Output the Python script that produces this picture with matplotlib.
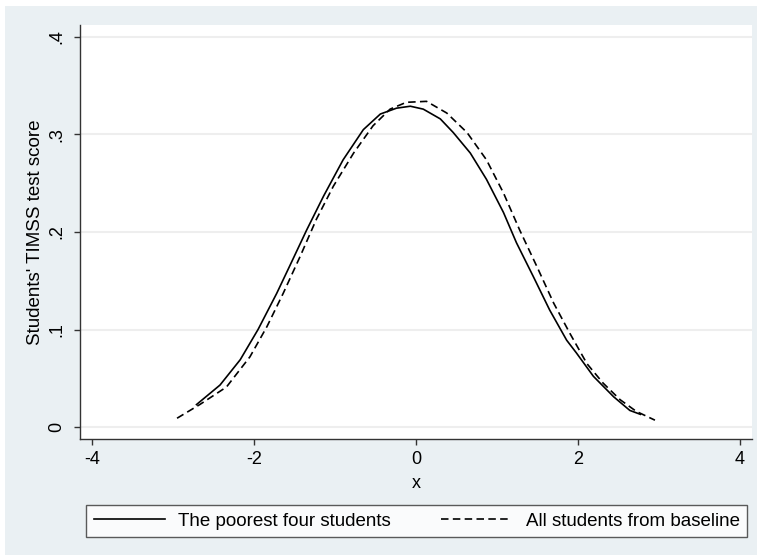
import matplotlib
matplotlib.use("Agg")
import matplotlib.pyplot as plt
from matplotlib.patches import Rectangle

plt.rcParams['font.family'] = ['Liberation Sans', 'DejaVu Sans']

# density curves
poor_x = [-2.71, -2.42, -2.17, -1.95, -1.72, -1.56, -1.35, -1.14, -0.90, -0.65, -0.44, -0.24,
          -0.07, 0.09, 0.30, 0.46, 0.67, 0.87, 1.08, 1.24, 1.45, 1.65, 1.86, 1.98, 2.19, 2.44,
          2.64, 2.77]
poor_y = [0.023, 0.043, 0.069, 0.100, 0.137, 0.165, 0.202, 0.237, 0.274, 0.305, 0.321, 0.327,
          0.329, 0.326, 0.316, 0.302, 0.281, 0.254, 0.220, 0.189, 0.154, 0.120, 0.089, 0.076,
          0.052, 0.031, 0.017, 0.013]
all_x = [-2.95, -2.67, -2.34, -2.05, -1.84, -1.64, -1.43, -1.23, -1.02, -0.77, -0.53, -0.32,
         -0.12, 0.13, 0.38, 0.63, 0.87, 1.08, 1.28, 1.49, 1.70, 1.90, 2.11, 2.31, 2.52, 2.72,
         2.95]
all_y = [0.009, 0.023, 0.041, 0.072, 0.103, 0.137, 0.175, 0.213, 0.247, 0.281, 0.309, 0.326,
         0.333, 0.334, 0.322, 0.302, 0.274, 0.240, 0.202, 0.165, 0.127, 0.096, 0.065, 0.045,
         0.028, 0.016, 0.007]

xticks = [-4, -2, 0, 2, 4]
yticks = [0, 0.1, 0.2, 0.3, 0.4]
ytick_labels = ["0", ".1", ".2", ".3", ".4"]

bg = "#eaf0f3"
fig = plt.figure(figsize=(7.62, 5.58), dpi=100, facecolor="white")
fig.patches.append(Rectangle((5 / 762, 3 / 558), 752 / 762, 549 / 558,
                             transform=fig.transFigure, facecolor=bg, edgecolor="none", zorder=-10))

ax = fig.add_axes([80 / 762, 1 - 439 / 558, 672 / 762, 414 / 558])
ax.set_facecolor("white")

for t in yticks:
    ax.axhline(t, color="#eeeeee", lw=1.5, zorder=0)

ax.plot(poor_x, poor_y, color="black", lw=1.2, label="The poorest four students")
ax.plot(all_x, all_y, color="black", lw=1.2, linestyle=(0, (4.5, 2.6)),
        label="All students from baseline")

ax.set_xlim(-4.148, 4.148)
ax.set_ylim(-0.0123, 0.4123)
ax.set_xticks(xticks)
ax.set_xticklabels([str(t) for t in xticks])
ax.set_yticks(yticks)
ax.set_yticklabels(ytick_labels, rotation=90, va="center")

for s in ["top", "right"]:
    ax.spines[s].set_visible(False)
for s in ["left", "bottom"]:
    ax.spines[s].set_color("#333333")
    ax.spines[s].set_linewidth(1.0)
ax.tick_params(direction="out", length=4.5, width=1, color="#333333", labelsize=13, pad=4)
ax.tick_params(axis="y", pad=6)

ax.set_xlabel("x", fontsize=13, labelpad=5)
ax.set_ylabel("Students' TIMSS test score", fontsize=13.5, labelpad=3)

handles, labels = ax.get_legend_handles_labels()
leg = fig.legend(handles, labels, ncol=2, loc="lower left", mode="expand",
                 bbox_to_anchor=(86 / 762, 1 - 537 / 558, 661 / 762, 35 / 558),
                 fontsize=13.5, handlelength=3.8, handletextpad=0.7, frameon=True,
                 fancybox=False, borderaxespad=0, columnspacing=2)
leg.get_frame().set_edgecolor("#333333")
leg.get_frame().set_linewidth(1.0)

fig.savefig("out.png", dpi=100, facecolor=fig.get_facecolor())
